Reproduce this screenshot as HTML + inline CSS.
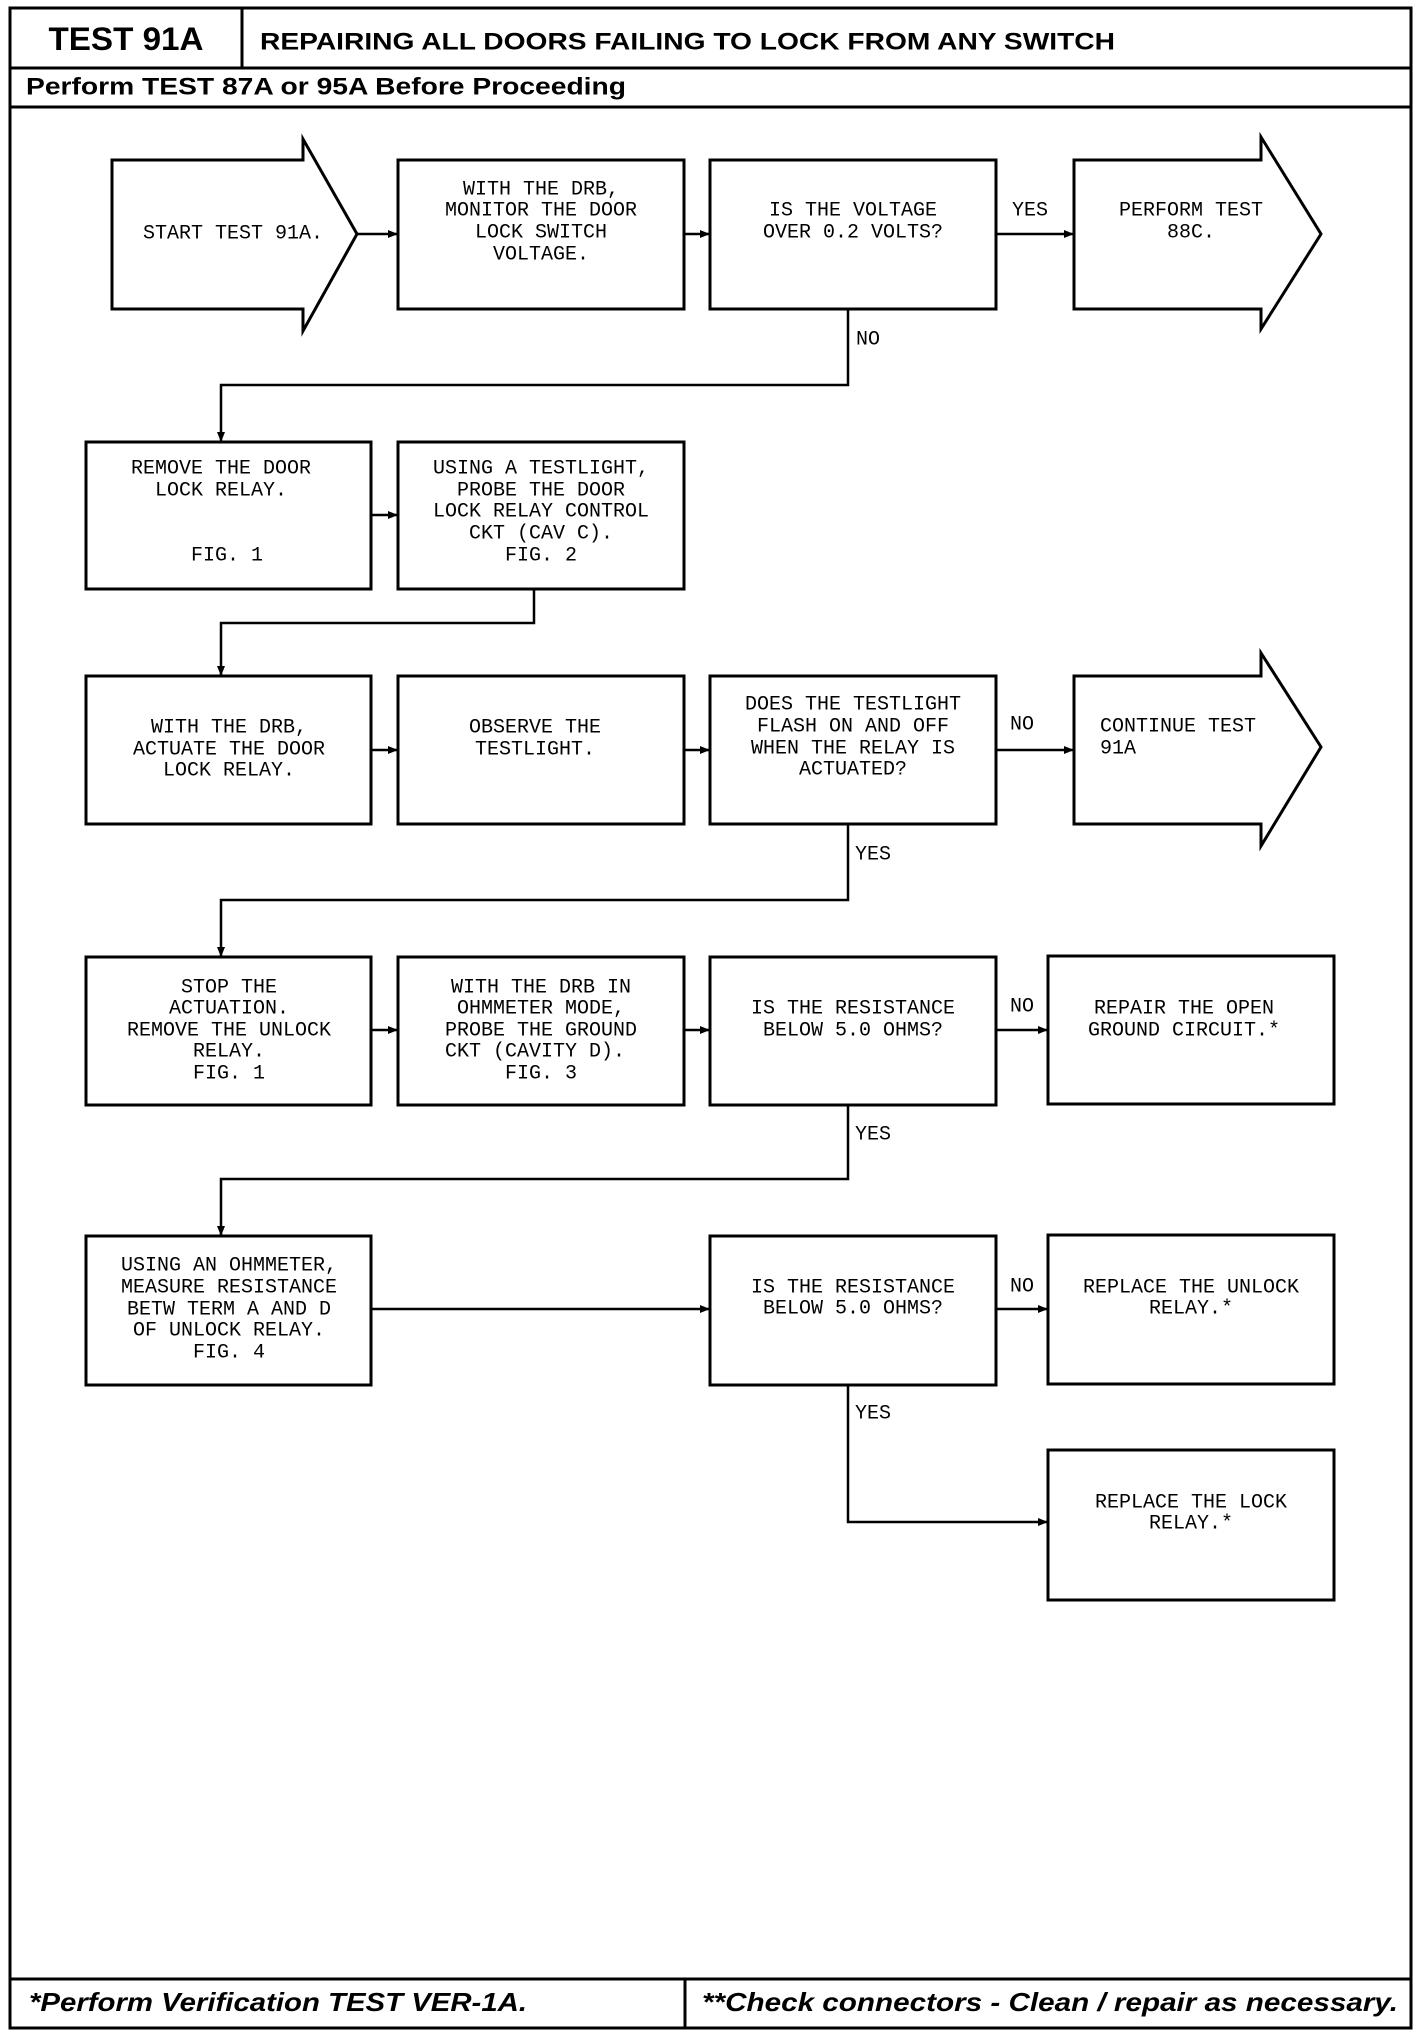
<!DOCTYPE html>
<html><head><meta charset="utf-8"><style>
html,body{margin:0;padding:0;background:#fff;}
svg{display:block;}
.t{font-family:"Liberation Mono",monospace;font-size:20px;fill:#000;}
</style></head><body>
<svg width="1424" height="2030" viewBox="0 0 1424 2030" xmlns="http://www.w3.org/2000/svg">
<defs>
<marker id="a" markerWidth="10" markerHeight="10" refX="9" refY="5" orient="auto" markerUnits="userSpaceOnUse">
<path d="M0,1 L10,5 L0,9 z" fill="#000"/></marker>
</defs>
<g fill="none" stroke="#000" stroke-width="3">
<rect x="10" y="8" width="1401" height="2020"/>
<line x1="10" y1="68" x2="1411" y2="68"/>
<line x1="242" y1="8" x2="242" y2="68"/>
<line x1="10" y1="107" x2="1411" y2="107"/>
<line x1="10" y1="1979" x2="1411" y2="1979"/>
<line x1="685" y1="1979" x2="685" y2="2028"/>
<!-- row1 -->
<path d="M112,160 H303 V139 L357,234 L303,331 V309 H112 Z"/>
<rect x="398" y="160" width="286" height="149"/>
<rect x="710" y="160" width="286" height="149"/>
<path d="M1074,160 H1261 V137 L1321,234 L1261,329 V309 H1074 Z"/>
<!-- row2 -->
<rect x="86" y="442" width="285" height="147"/>
<rect x="398" y="442" width="286" height="147"/>
<!-- row3 -->
<rect x="86" y="676" width="285" height="148"/>
<rect x="398" y="676" width="286" height="148"/>
<rect x="710" y="676" width="286" height="148"/>
<path d="M1074,676 H1261 V653 L1321,747 L1261,846 V824 H1074 Z"/>
<!-- row4 -->
<rect x="86" y="957" width="285" height="148"/>
<rect x="398" y="957" width="286" height="148"/>
<rect x="710" y="957" width="286" height="148"/>
<rect x="1048" y="956" width="286" height="148"/>
<!-- row5 -->
<rect x="86" y="1236" width="285" height="149"/>
<rect x="710" y="1236" width="286" height="149"/>
<rect x="1048" y="1235" width="286" height="149"/>
<rect x="1048" y="1450" width="286" height="150"/>
</g>
<g fill="none" stroke="#000" stroke-width="2.5" marker-end="url(#a)">
<line x1="357" y1="234" x2="397" y2="234"/>
<line x1="684" y1="234" x2="709" y2="234"/>
<line x1="996" y1="234" x2="1073" y2="234"/>
<polyline points="848,309 848,385 221,385 221,441"/>
<line x1="371" y1="515" x2="397" y2="515"/>
<polyline points="534,589 534,623 221,623 221,675"/>
<line x1="371" y1="750" x2="397" y2="750"/>
<line x1="684" y1="750" x2="709" y2="750"/>
<line x1="996" y1="750" x2="1073" y2="750"/>
<polyline points="848,824 848,900 221,900 221,956"/>
<line x1="371" y1="1030" x2="397" y2="1030"/>
<line x1="684" y1="1030" x2="709" y2="1030"/>
<line x1="996" y1="1030" x2="1047" y2="1030"/>
<polyline points="848,1105 848,1179 221,1179 221,1235"/>
<line x1="371" y1="1309" x2="709" y2="1309"/>
<line x1="996" y1="1309" x2="1047" y2="1309"/>
<polyline points="848,1385 848,1522 1047,1522"/>
</g>
<g font-family="Liberation Sans,Arial,sans-serif" font-weight="bold" fill="#000">
<text x="126" y="39" font-size="32" text-anchor="middle" dominant-baseline="central" textLength="155" lengthAdjust="spacingAndGlyphs">TEST 91A</text>
<text x="260" y="42" font-size="24" dominant-baseline="central" textLength="855" lengthAdjust="spacingAndGlyphs">REPAIRING ALL DOORS FAILING TO LOCK FROM ANY SWITCH</text>
<text x="26" y="87" font-size="24" dominant-baseline="central" textLength="600" lengthAdjust="spacingAndGlyphs">Perform TEST 87A or 95A Before Proceeding</text>
<text x="29" y="2002" font-size="26" font-style="italic" dominant-baseline="central" textLength="498" lengthAdjust="spacingAndGlyphs">*Perform Verification TEST VER-1A.</text>
<text x="702" y="2002" font-size="26" font-style="italic" dominant-baseline="central" textLength="696" lengthAdjust="spacingAndGlyphs">**Check connectors - Clean / repair as necessary.</text>
</g>
<g class="t" text-anchor="middle" dominant-baseline="central">
<text x="233" y="234">START TEST 91A.</text>
<text x="541" y="190">WITH THE DRB,</text><text x="541" y="211">MONITOR THE DOOR</text><text x="541" y="233">LOCK SWITCH</text><text x="541" y="255">VOLTAGE.</text>
<text x="853" y="211">IS THE VOLTAGE</text><text x="853" y="233">OVER 0.2 VOLTS?</text>
<text x="1191" y="211">PERFORM TEST</text><text x="1191" y="233">88C.</text>
<text x="1030" y="211">YES</text>
<text x="868" y="340">NO</text>
<text x="221" y="469">REMOVE THE DOOR</text><text x="221" y="491">LOCK RELAY.</text><text x="227" y="556">FIG. 1</text>
<text x="541" y="469">USING A TESTLIGHT,</text><text x="541" y="491">PROBE THE DOOR</text><text x="541" y="512">LOCK RELAY CONTROL</text><text x="541" y="534">CKT (CAV C).</text><text x="541" y="556">FIG. 2</text>
<text x="229" y="728">WITH THE DRB,</text><text x="229" y="750">ACTUATE THE DOOR</text><text x="229" y="771">LOCK RELAY.</text>
<text x="535" y="728">OBSERVE THE</text><text x="535" y="750">TESTLIGHT.</text>
<text x="853" y="705">DOES THE TESTLIGHT</text><text x="853" y="727">FLASH ON AND OFF</text><text x="853" y="749">WHEN THE RELAY IS</text><text x="853" y="770">ACTUATED?</text>
<text x="1022" y="725">NO</text>
<text x="873" y="855">YES</text>
<text x="229" y="988">STOP THE</text><text x="229" y="1009">ACTUATION.</text><text x="229" y="1031">REMOVE THE UNLOCK</text><text x="229" y="1052">RELAY.</text><text x="229" y="1074">FIG. 1</text>
<text x="541" y="988">WITH THE DRB IN</text><text x="541" y="1009">OHMMETER MODE,</text><text x="541" y="1031">PROBE THE GROUND</text><text x="535" y="1052">CKT (CAVITY D).</text><text x="541" y="1074">FIG. 3</text>
<text x="853" y="1009">IS THE RESISTANCE</text><text x="853" y="1031">BELOW 5.0 OHMS?</text>
<text x="1022" y="1007">NO</text>
<text x="1184" y="1009">REPAIR THE OPEN</text><text x="1184" y="1031">GROUND CIRCUIT.*</text>
<text x="873" y="1135">YES</text>
<text x="229" y="1266">USING AN OHMMETER,</text><text x="229" y="1288">MEASURE RESISTANCE</text><text x="229" y="1310">BETW TERM A AND D</text><text x="229" y="1331">OF UNLOCK RELAY.</text><text x="229" y="1353">FIG. 4</text>
<text x="853" y="1288">IS THE RESISTANCE</text><text x="853" y="1309">BELOW 5.0 OHMS?</text>
<text x="1022" y="1287">NO</text>
<text x="1191" y="1288">REPLACE THE UNLOCK</text><text x="1191" y="1309">RELAY.*</text>
<text x="873" y="1414">YES</text>
<text x="1191" y="1503">REPLACE THE LOCK</text><text x="1191" y="1524">RELAY.*</text>
</g>
<text x="1100" y="727" class="t" dominant-baseline="central">CONTINUE TEST</text>
<text x="1100" y="749" class="t" dominant-baseline="central">91A</text>
</svg>
</body></html>
